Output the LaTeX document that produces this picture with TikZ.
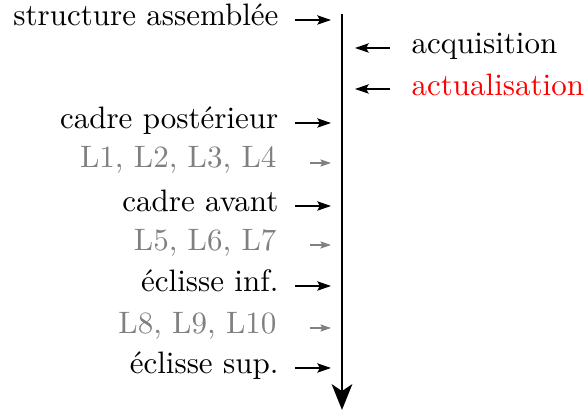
\documentclass[tikz,border=0pt]{standalone}
\usetikzlibrary{arrows.meta}
\begin{document}
\begin{tikzpicture}[x=0.3226pt,y=-0.3226pt,
  lbl/.style={inner sep=0pt, anchor=base east},
  rlbl/.style={inner sep=0pt, anchor=base west},
  mainarr/.style={-{Stealth[length=4.4pt,width=3pt,inset=0.8pt]}, line width=0.5pt},
  minorarr/.style={gray, -{Stealth[length=3.4pt,width=2.3pt,inset=0.6pt]}, line width=0.4pt},
  spine/.style={line width=0.9pt, -{Stealth[length=8.3pt,width=6.6pt,inset=2.2pt]}}]
\useasboundingbox (0,0) rectangle (585,410);
% spine
\coordinate (top) at (342,14);
\coordinate (bot) at (342,410);
\draw[spine] (top) -- (bot);
% left labels
\node[lbl] (t1) at (279,26) {structure assemblée};
\node[lbl] (t2) at (279,129) {cadre postérieur};
\node[lbl, gray] (t3) at (277,168) {L1, L2, L3, L4};
\node[lbl] (t4) at (279,212) {cadre avant};
\node[lbl, gray] (t5) at (277,251) {L5, L6, L7};
\node[lbl] (t6) at (279,292) {éclisse inf.};
\node[lbl, gray] (t7) at (277,334) {L8, L9, L10};
\node[lbl] (t8) at (279,374) {éclisse sup.};
% right labels
\node[rlbl] (r1) at (411,54) {acquisition};
\node[rlbl, red] (r2) at (411,96) {actualisation};
% arrow endpoints
\foreach \n/\y in {a1/20,a2/123,a4/206,a6/286,a8/368}{
  \coordinate (\n s) at (295,\y);
  \coordinate (\n e) at (331,\y);
}
\foreach \n/\y in {a3/163,a5/245,a7/328}{
  \coordinate (\n s) at (310,\y);
  \coordinate (\n e) at (331,\y);
}
\foreach \n/\y in {b1/48,b2/89}{
  \coordinate (\n s) at (390,\y);
  \coordinate (\n e) at (355,\y);
}
\foreach \n in {a1,a2,a4,a6,a8,b1,b2}{
  \draw[mainarr] (\n s) -- (\n e);
}
\foreach \n in {a3,a5,a7}{
  \draw[minorarr] (\n s) -- (\n e);
}
\end{tikzpicture}
\end{document}
